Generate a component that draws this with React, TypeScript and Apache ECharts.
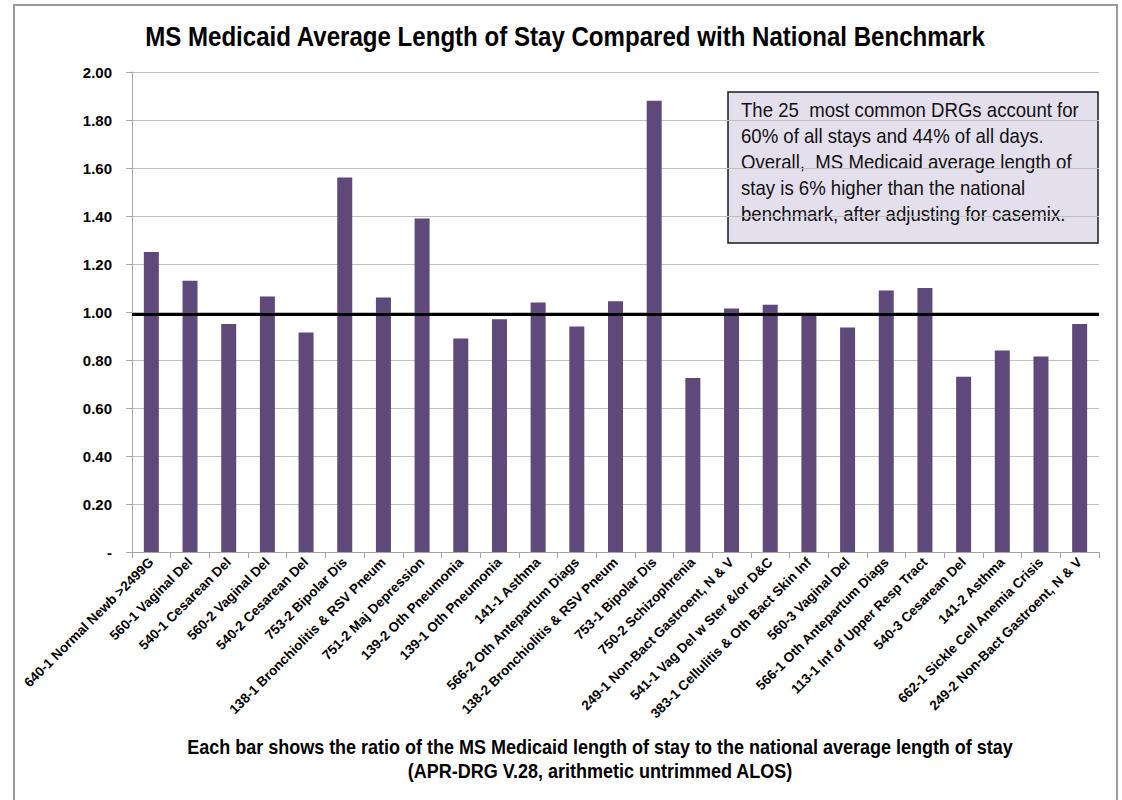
import React, { useEffect, useRef } from "react";
import * as echarts from "echarts";

const categories = [
  "640-1 Normal Newb >2499G",
  "560-1 Vaginal Del",
  "540-1 Cesarean Del",
  "560-2 Vaginal Del",
  "540-2 Cesarean Del",
  "753-2 Bipolar Dis",
  "138-1 Bronchiolitis & RSV Pneum",
  "751-2 Maj Depression",
  "139-2 Oth Pneumonia",
  "139-1 Oth Pneumonia",
  "141-1 Asthma",
  "566-2 Oth Antepartum Diags",
  "138-2 Bronchiolitis & RSV Pneum",
  "753-1 Bipolar Dis",
  "750-2 Schizophrenia",
  "249-1 Non-Bact Gastroent, N & V",
  "541-1 Vag Del w Ster &/or D&C",
  "383-1 Cellulitis & Oth Bact Skin Inf",
  "560-3 Vaginal Del",
  "566-1 Oth Antepartum Diags",
  "113-1 Inf of Upper Resp Tract",
  "540-3 Cesarean Del",
  "141-2 Asthma",
  "662-1 Sickle Cell Anemia Crisis",
  "249-2 Non-Bact Gastroent, N & V",
];

const ratios = [
  1.25, 1.13, 0.95, 1.065, 0.915, 1.56, 1.06, 1.39, 0.89, 0.97, 1.04, 0.94,
  1.045, 1.88, 0.725, 1.015, 1.03, 0.985, 0.935, 1.09, 1.1, 0.73, 0.84, 0.815,
  0.95,
];

const benchmark = 0.987;

const titleText = "MS Medicaid Average Length of Stay Compared with National Benchmark";
const axisTitleLines = [
  "Each bar shows the ratio of the MS Medicaid length of stay to the national average length of stay",
  "(APR-DRG V.28, arithmetic untrimmed ALOS)",
];
const noteLines = [
  "The 25  most common DRGs account for",
  "60% of all stays and 44% of all days.",
  "Overall,  MS Medicaid average length of",
  "stay is 6% higher than the national",
  "benchmark, after adjusting for casemix.",
];

const NARROW = "'Liberation Sans Narrow', 'Arial Narrow', 'Liberation Sans', Arial, sans-serif";

export default function App() {
  const ref = useRef<HTMLDivElement>(null);
  useEffect(() => {
    if (!ref.current) return;
    const chart = echarts.init(ref.current, null, { renderer: "svg" });
    chart.setOption({
      animation: false,
      backgroundColor: "#ffffff",
      grid: { left: 132, right: 23, top: 72, bottom: 248, containLabel: false },
      xAxis: {
        type: "category",
        data: categories,
        axisLine: { lineStyle: { color: "#a6a6a6", width: 1 } },
        axisTick: { show: true, alignWithLabel: false, length: 6, lineStyle: { color: "#a6a6a6" } },
        axisLabel: {
          interval: 0,
          rotate: 45,
          margin: 8,
          fontFamily: NARROW,
          fontWeight: "bold",
          fontSize: 13.5,
          color: "#000",
        },
        splitLine: { show: false },
      },
      yAxis: {
        type: "value",
        min: 0,
        max: 2,
        interval: 0.2,
        axisLine: { show: true, lineStyle: { color: "#a6a6a6" } },
        axisTick: { show: true, length: 6, lineStyle: { color: "#a6a6a6" } },
        axisLabel: {
          margin: 20,
          fontFamily: NARROW,
          fontWeight: "bold",
          fontSize: 15,
          color: "#000",
          formatter: (v: number) => (v === 0 ? "-" : v.toFixed(2)),
        },
        splitLine: { show: true, lineStyle: { color: "#bfbfbf", width: 1 } },
      },
      series: [
        {
          type: "bar",
          data: ratios,
          barWidth: 15,
          itemStyle: { color: "#5f497a" },
          markLine: {
            silent: true,
            symbol: ["none", "none"],
            label: { show: false },
            lineStyle: { color: "#000", width: 3, type: "solid" },
            data: [{ yAxis: benchmark }],
          },
        },
      ],
      graphic: [
        {
          type: "rect",
          shape: { x: 14, y: 5, width: 1103, height: 820 },
          style: { fill: "none", stroke: "#9a9a9a", lineWidth: 2 },
          silent: true,
        },
        {
          type: "text",
          x: 565,
          y: 36,
          scaleX: 0.86,
          style: {
            text: titleText,
            font: `bold 28px ${NARROW}`,
            fill: "#000",
            textAlign: "center",
            textVerticalAlign: "middle",
          },
        },
        {
          type: "rect",
          shape: { x: 728, y: 92, width: 370, height: 151 },
          style: { fill: "#e4dfec", stroke: "#1a1a1a", lineWidth: 1.5 },
        },
        ...noteLines.map((t, i) => ({
          type: "text",
          x: 741,
          y: 110 + i * 26,
          scaleX: 0.93,
          style: {
            text: t,
            font: `20px ${NARROW}`,
            fill: "#111",
            textAlign: "left",
            textVerticalAlign: "middle",
          },
        })),
        ...axisTitleLines.map((t, i) => ({
          type: "text",
          x: 600,
          y: 747 + i * 24,
          scaleX: 0.9,
          style: {
            text: t,
            font: `bold 20px ${NARROW}`,
            fill: "#000",
            textAlign: "center",
            textVerticalAlign: "middle",
          },
        })),
      ],
    });
    return () => chart.dispose();
  }, []);
  return (
    <div
      ref={ref}
      style={{ position: "fixed", left: 0, top: 0, width: 1122, height: 800 }}
    />
  );
}
